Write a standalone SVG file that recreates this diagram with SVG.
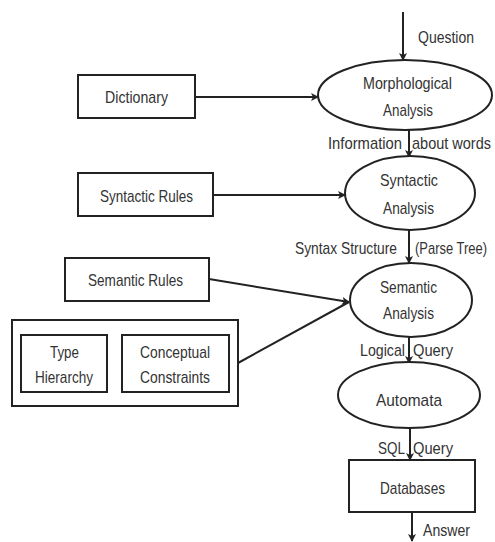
<svg xmlns="http://www.w3.org/2000/svg" width="495" height="542" viewBox="0 0 495 542">
<style>
.s{fill:#fff;stroke:#222;stroke-width:2}
.c{fill:none;stroke:#222;stroke-width:2}
text{font-family:"Liberation Sans",Arial,sans-serif;font-size:17px;fill:#333}
</style>
<defs>
<marker id="a" markerWidth="8" markerHeight="8" refX="7" refY="4" orient="auto" markerUnits="userSpaceOnUse">
<path d="M0,0 L8,4 L0,8 L2,4 Z" fill="#222"/>
</marker>
</defs>
<rect width="495" height="542" fill="#fff"/>
<g id="connectors">
<line class="c" x1="403" y1="12" x2="403" y2="60" marker-end="url(#a)"/>
<line class="c" x1="195" y1="97" x2="318" y2="97" marker-end="url(#a)"/>
<line class="c" x1="409" y1="130" x2="409" y2="157" marker-end="url(#a)"/>
<line class="c" x1="213" y1="195" x2="345" y2="195" marker-end="url(#a)"/>
<line class="c" x1="409" y1="230" x2="409" y2="263" marker-end="url(#a)"/>
<line class="c" x1="209" y1="279" x2="349" y2="302" marker-end="url(#a)"/>
<line class="c" x1="238" y1="363" x2="349" y2="302"/>
<line class="c" x1="107" y1="364" x2="121" y2="364" marker-end="url(#a)"/>
<line class="c" x1="409" y1="337" x2="409" y2="363" marker-end="url(#a)"/>
<line class="c" x1="410" y1="428" x2="410" y2="460" marker-end="url(#a)"/>
<line class="c" x1="412" y1="512" x2="412" y2="541" marker-end="url(#a)"/>
<text x="418" y="43" textLength="56" lengthAdjust="spacingAndGlyphs">Question</text>
<text x="328" y="149" textLength="74" lengthAdjust="spacingAndGlyphs">Information</text>
<text x="412" y="149" textLength="79" lengthAdjust="spacingAndGlyphs">about  words</text>
<text x="295" y="254" textLength="102" lengthAdjust="spacingAndGlyphs">Syntax Structure</text>
<text x="415" y="254" textLength="72" lengthAdjust="spacingAndGlyphs">(Parse Tree)</text>
<text x="360" y="356" textLength="45" lengthAdjust="spacingAndGlyphs">Logical</text>
<text x="413" y="356" textLength="40" lengthAdjust="spacingAndGlyphs">Query</text>
<text x="378" y="454" textLength="27" lengthAdjust="spacingAndGlyphs">SQL</text>
<text x="413" y="454" textLength="40" lengthAdjust="spacingAndGlyphs">Query</text>
<text x="423" y="536" textLength="47" lengthAdjust="spacingAndGlyphs">Answer</text>
</g>
<g id="dictionary"><rect class="s" x="78" y="75" width="117" height="43"/><text x="105" y="103" textLength="63" lengthAdjust="spacingAndGlyphs">Dictionary</text></g>
<g id="syntactic-rules"><rect class="s" x="78" y="173" width="135" height="43"/><text x="100" y="202" textLength="93" lengthAdjust="spacingAndGlyphs">Syntactic Rules</text></g>
<g id="semantic-rules"><rect class="s" x="65" y="258" width="144" height="43"/><text x="88" y="286" textLength="95" lengthAdjust="spacingAndGlyphs">Semantic Rules</text></g>
<g id="knowledge"><rect class="s" x="12" y="320" width="226" height="86"/></g>
<g id="type-hierarchy"><rect class="s" x="21" y="335" width="86" height="57"/><text x="50" y="358" textLength="29" lengthAdjust="spacingAndGlyphs">Type</text><text x="35" y="383" textLength="58" lengthAdjust="spacingAndGlyphs">Hierarchy</text></g>
<g id="conceptual-constraints"><rect class="s" x="122" y="335" width="107" height="57"/><text x="140" y="358" textLength="70" lengthAdjust="spacingAndGlyphs">Conceptual</text><text x="140" y="383" textLength="70" lengthAdjust="spacingAndGlyphs">Constraints</text></g>
<g id="morphological"><ellipse class="s" cx="405" cy="95" rx="87" ry="35"/><text x="363" y="89" textLength="89" lengthAdjust="spacingAndGlyphs">Morphological</text><text x="383" y="116" textLength="50" lengthAdjust="spacingAndGlyphs">Analysis</text></g>
<g id="syntactic"><ellipse class="s" cx="410" cy="193" rx="65" ry="37"/><text x="380" y="186" textLength="58" lengthAdjust="spacingAndGlyphs">Syntactic</text><text x="383" y="214" textLength="51" lengthAdjust="spacingAndGlyphs">Analysis</text></g>
<g id="semantic"><ellipse class="s" cx="411" cy="300" rx="61" ry="37"/><text x="380" y="293" textLength="57" lengthAdjust="spacingAndGlyphs">Semantic</text><text x="383" y="319" textLength="51" lengthAdjust="spacingAndGlyphs">Analysis</text></g>
<g id="automata"><ellipse class="s" cx="409" cy="395" rx="71" ry="33"/><text x="376" y="406" textLength="66" lengthAdjust="spacingAndGlyphs">Automata</text></g>
<g id="databases"><rect class="s" x="349" y="460" width="126" height="52"/><text x="380" y="494" textLength="65" lengthAdjust="spacingAndGlyphs">Databases</text></g>
</svg>
